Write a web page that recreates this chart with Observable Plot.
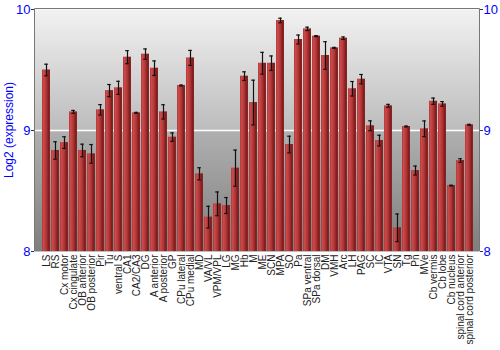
<!DOCTYPE html>
<html><head><meta charset="utf-8">
<script src="https://cdn.jsdelivr.net/npm/d3@7"></script>
<script src="https://cdn.jsdelivr.net/npm/@observablehq/plot@0.6"></script>
<style>body{margin:0;background:#fff;} svg{font-family:"Liberation Sans",Arial,sans-serif;}</style>
</head><body><div id="chart"></div>
<script>
const regions = ["LS","RS","Cx motor","Cx cingulate","OB anterior","OB posterior","Pir","Tu","ventral S","CA1","CA2/CA3","DG","A anterior","A posterior","GP","CPu lateral","CPu medial","MD","VA/VL","VPM/VPL","LG","MG","Hb","M","ME","SCN","MPA","SO","Pa","SPa ventral","SPa dorsal","DM","VMH","Arc","LH","PAG","SC","IC","VTA","SN","Tg","Pn","MVe","Cb vermis","Cb lobe","Cb nucleus","spinal cord anterior","spinal cord posterior"];
const expression = [9.50,8.835,8.90,9.154,8.835,8.807,9.171,9.33,9.353,9.606,9.146,9.631,9.515,9.154,8.945,9.372,9.60,8.642,8.284,8.394,8.38,8.689,9.449,9.231,9.556,9.556,9.909,8.884,9.752,9.84,9.78,9.62,9.683,9.763,9.345,9.424,9.039,8.917,9.204,8.196,9.033,8.669,9.014,9.242,9.22,8.545,8.752,9.047];
const stdErr = [0.048,0.072,0.048,0.012,0.052,0.077,0.043,0.05,0.054,0.054,0.004,0.043,0.06,0.059,0.035,0.004,0.062,0.05,0.09,0.098,0.066,0.149,0.036,0.185,0.09,0.06,0.019,0.069,0.037,0.014,0.004,0.114,0.004,0.01,0.06,0.039,0.041,0.044,0.012,0.114,0.004,0.037,0.065,0.026,0.019,0.003,0.015,0.004];
const yDomain = [8, 10];
const yTicks = [8, 9, 10];
const yLabel = "Log2 (expression)";

const data = regions.map((name, i) => ({name, value: expression[i], err: stdErr[i]}));

const chart = Plot.plot({
  width: 500, height: 350,
  marginLeft: 34, marginRight: 21, marginTop: 9, marginBottom: 99,
  style: {fontFamily: '"Liberation Sans", Arial, sans-serif', background: "#fff"},
  x: {domain: regions, range: [35, 480], paddingInner: 0.12, paddingOuter: 0.06, label: null},
  y: {domain: yDomain, ticks: yTicks, label: null},
  marks: [
    Plot.frame({fill: "url(#bgGrad)", stroke: null}),
    Plot.ruleY([9], {stroke: "#fff", strokeWidth: 1.5}),
    Plot.barY(data, {x: "name", y1: yDomain[0], y2: "value", fill: "url(#barGrad)"}),
    Plot.ruleX(data, {x: "name", y1: d => d.value - d.err, y2: d => d.value + d.err, stroke: "#111", strokeWidth: 1.2}),
    Plot.tickY(data, {x: "name", y: d => d.value - d.err, stroke: "#111", strokeWidth: 1.2, insetLeft: 2.2, insetRight: 2.2}),
    Plot.tickY(data, {x: "name", y: d => d.value + d.err, stroke: "#111", strokeWidth: 1.2, insetLeft: 2.2, insetRight: 2.2}),
    Plot.axisY({anchor: "left", ticks: yTicks, tickFormat: d3.format("d"), tickSize: 3, tickPadding: 1, fontSize: 13, color: "#0000ff", stroke: "#333", label: null}),
    Plot.axisY({anchor: "right", ticks: yTicks, tickFormat: d3.format("d"), tickSize: 3, tickPadding: 1, fontSize: 13, color: "#0000ff", stroke: "#333", label: null}),
    Plot.axisX({tickSize: 0, tickRotate: -90, tickPadding: 3, fontSize: 10, fill: "#222", label: null})
  ]
});

// gradients
const ns = "http://www.w3.org/2000/svg";
const defs = document.createElementNS(ns, "defs");
defs.innerHTML = `
<linearGradient id="bgGrad" x1="0" y1="0" x2="0" y2="1">
  <stop offset="0" stop-color="#f2f2f2"/>
  <stop offset="0.5" stop-color="#bcbcbc"/>
  <stop offset="0.5" stop-color="#b0b0b0"/>
  <stop offset="1" stop-color="#7e7e7e"/>
</linearGradient>
<linearGradient id="barGrad" x1="0" y1="0" x2="1" y2="0">
  <stop offset="0" stop-color="#a83636"/>
  <stop offset="0.15" stop-color="#cc4c4c"/>
  <stop offset="0.5" stop-color="#b43838"/>
  <stop offset="0.88" stop-color="#7a1818"/>
  <stop offset="1" stop-color="#8e3030"/>
</linearGradient>`;
chart.insertBefore(defs, chart.firstChild);

// frame lines (top, left, right)
const svg = d3.select(chart);
const g = svg.append("g").attr("stroke", "#777").attr("fill", "none");
g.append("path").attr("d", "M34.5,251V8.5H479.5V251");
svg.append("text").attr("transform", "translate(13,130) rotate(-90)").attr("text-anchor", "middle")
  .attr("fill", "#0000ff").attr("font-size", 12).text(yLabel);

document.getElementById("chart").appendChild(chart);
</script></body></html>
